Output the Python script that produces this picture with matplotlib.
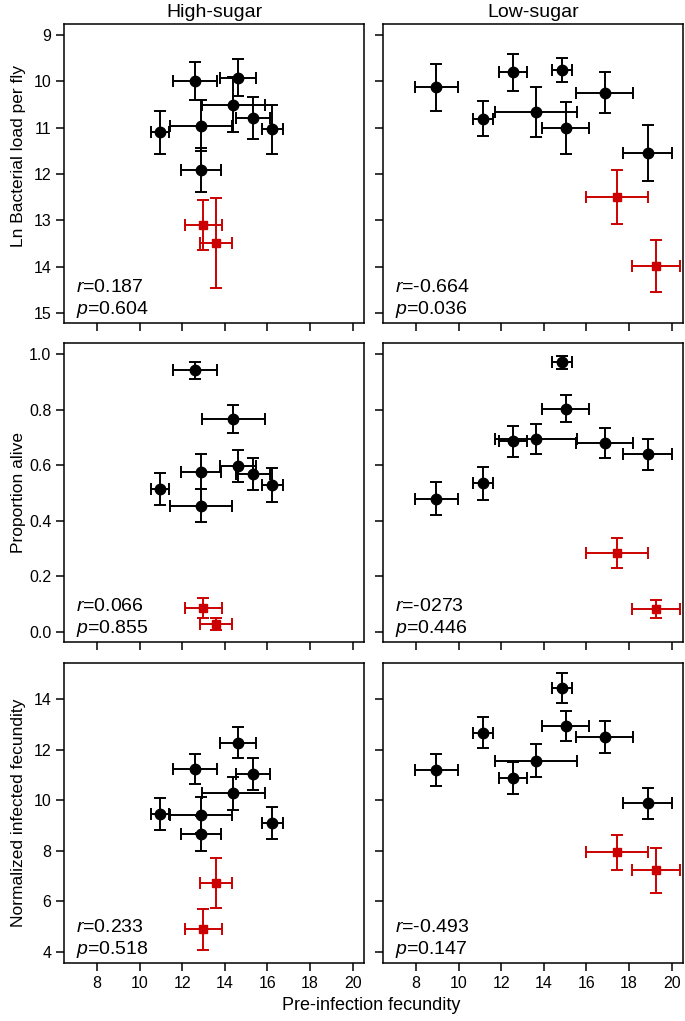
import matplotlib
matplotlib.use("Agg")
import matplotlib.pyplot as plt

plt.rcParams["font.family"] = ["Liberation Sans", "DejaVu Sans"]
plt.rcParams["mathtext.fontset"] = "custom"
plt.rcParams["mathtext.it"] = "Liberation Sans:italic"
plt.rcParams["mathtext.rm"] = "Liberation Sans"

ROJO = "#cc0000"

# --- High-sugar: 8 lineas normales + 2 en rojo ---
hs_x = [10.96, 12.60, 14.62, 14.39, 15.32, 16.23, 12.88, 12.88]
hs_xerr = [0.44, 1.05, 0.86, 1.48, 0.78, 0.51, 1.45, 0.96]
hs_carga = [11.10, 9.99, 9.92, 10.50, 10.79, 11.03, 10.96, 11.91]
hs_carga_err = [0.47, 0.41, 0.40, 0.60, 0.46, 0.53, 0.55, 0.47]
hs_vivos = [0.514, 0.941, 0.598, 0.765, 0.568, 0.528, 0.454, 0.577]
hs_vivos_err = [0.059, 0.029, 0.058, 0.050, 0.058, 0.060, 0.060, 0.062]
hs_fec = [9.46, 11.24, 12.28, 10.27, 11.03, 9.10, 9.42, 8.68]
hs_fec_err = [0.64, 0.60, 0.62, 0.67, 0.63, 0.64, 0.72, 0.71]

hs_rx = [12.99, 13.58]
hs_rxerr = [0.87, 0.74]
hs_rcarga = [13.11, 13.50]
hs_rcarga_err = [0.54, 0.97]
hs_rvivos = [0.086, 0.028]
hs_rvivos_err = [0.035, 0.022]
hs_rfec = [4.885, 6.71]
hs_rfec_err = [0.81, 0.99]

# --- Low-sugar ---
ls_x = [8.96, 11.14, 12.57, 14.84, 13.63, 15.03, 16.85, 18.88]
ls_xerr = [1.03, 0.48, 0.66, 0.48, 1.94, 1.10, 1.33, 1.15]
ls_carga = [10.13, 10.81, 9.80, 9.75, 10.67, 11.01, 10.24, 11.55]
ls_carga_err = [0.51, 0.38, 0.40, 0.26, 0.54, 0.56, 0.44, 0.61]
ls_vivos = [0.479, 0.534, 0.686, 0.970, 0.694, 0.804, 0.681, 0.639]
ls_vivos_err = [0.059, 0.060, 0.055, 0.022, 0.054, 0.048, 0.054, 0.057]
ls_fec = [11.20, 12.68, 10.87, 14.44, 11.57, 12.94, 12.52, 9.88]
ls_fec_err = [0.65, 0.62, 0.63, 0.59, 0.64, 0.58, 0.63, 0.62]

ls_rx = [17.44, 19.27]
ls_rxerr = [1.46, 1.13]
ls_rcarga = [12.50, 13.99]
ls_rcarga_err = [0.58, 0.57]
ls_rvivos = [0.284, 0.082]
ls_rvivos_err = [0.054, 0.032]
ls_rfec = [7.93, 7.22]
ls_rfec_err = [0.70, 0.89]

# texto de correlacion por panel (fila, columna)
r_vals = [["0.187", "-0.664"], ["0.066", "-0273"], ["0.233", "-0.493"]]
p_vals = [["0.604", "0.036"], ["0.855", "0.446"], ["0.518", "0.147"]]

titulos = ["High-sugar", "Low-sugar"]
ylabels = ["Ln Bacterial load per fly", "Proportion alive", "Normalized infected fecundity"]
ylabel_pos = [0.56, 0.5, 0.5]
ylims = [(15.22, 8.76), (-0.037, 1.04), (3.55, 15.44)]
yticks = [list(range(9, 16)), [0.0, 0.2, 0.4, 0.6, 0.8, 1.0], list(range(4, 15, 2))]
yfmt = ["{:.0f}", "{:.1f}", "{:.0f}"]
xticks = list(range(8, 21, 2))

datos = [
    [(hs_x, hs_xerr, hs_carga, hs_carga_err, hs_rx, hs_rxerr, hs_rcarga, hs_rcarga_err),
     (ls_x, ls_xerr, ls_carga, ls_carga_err, ls_rx, ls_rxerr, ls_rcarga, ls_rcarga_err)],
    [(hs_x, hs_xerr, hs_vivos, hs_vivos_err, hs_rx, hs_rxerr, hs_rvivos, hs_rvivos_err),
     (ls_x, ls_xerr, ls_vivos, ls_vivos_err, ls_rx, ls_rxerr, ls_rvivos, ls_rvivos_err)],
    [(hs_x, hs_xerr, hs_fec, hs_fec_err, hs_rx, hs_rxerr, hs_rfec, hs_rfec_err),
     (ls_x, ls_xerr, ls_fec, ls_fec_err, ls_rx, ls_rxerr, ls_rfec, ls_rfec_err)],
]

fig = plt.figure(figsize=(6.85, 10.21), dpi=100)
W, H = 685, 1021
col_x = [64, 383]
fila_y = [(24, 323), (343, 642), (663, 963)]

for i in range(3):
    for j in range(2):
        top, bot = fila_y[i]
        ax = fig.add_axes([col_x[j] / W, 1 - bot / H, 300 / W, (bot - top) / H])
        x, xe, y, ye, rx, rxe, ry, rye = datos[i][j]
        ax.errorbar(x, y, xerr=xe, yerr=ye, fmt="o", color="black", ms=7.5,
                    elinewidth=1.4, capsize=4.5, capthick=1.4, zorder=3)
        ax.errorbar(rx, ry, xerr=rxe, yerr=rye, fmt="s", color=ROJO, ms=5.5,
                    elinewidth=1.4, capsize=4.5, capthick=1.4, zorder=3)
        ax.set_xlim(6.45, 20.53)
        ax.set_ylim(*ylims[i])
        ax.set_xticks(xticks)
        ax.set_yticks(yticks[i])
        ax.set_yticklabels([yfmt[i].format(v) for v in yticks[i]])
        ax.tick_params(direction="out", length=6, width=1.1, labelsize=11.5,
                       colors="black", pad=3)
        if i < 2:
            ax.tick_params(labelbottom=False)
        if j == 1:
            ax.tick_params(labelleft=False)
        for s in ax.spines.values():
            s.set_linewidth(1.1)
        if j == 0:
            ax.set_ylabel(ylabels[i], fontsize=12.5, labelpad=4)
            ax.yaxis.set_label_coords(-0.125, ylabel_pos[i])
        if i == 0:
            ax.set_title(titulos[j], fontsize=14, pad=5)
        ax.text(0.04, 0.12, r"$\it{r}$=" + r_vals[i][j], transform=ax.transAxes,
                fontsize=14, va="center", ha="left")
        ax.text(0.04, 0.045, r"$\it{p}$=" + p_vals[i][j], transform=ax.transAxes,
                fontsize=14, va="center", ha="left")

fig.text(371 / W, 1 - 1005 / H, "Pre-infection fecundity", ha="center", va="center",
         fontsize=13)

fig.savefig("out.png", dpi=100)
